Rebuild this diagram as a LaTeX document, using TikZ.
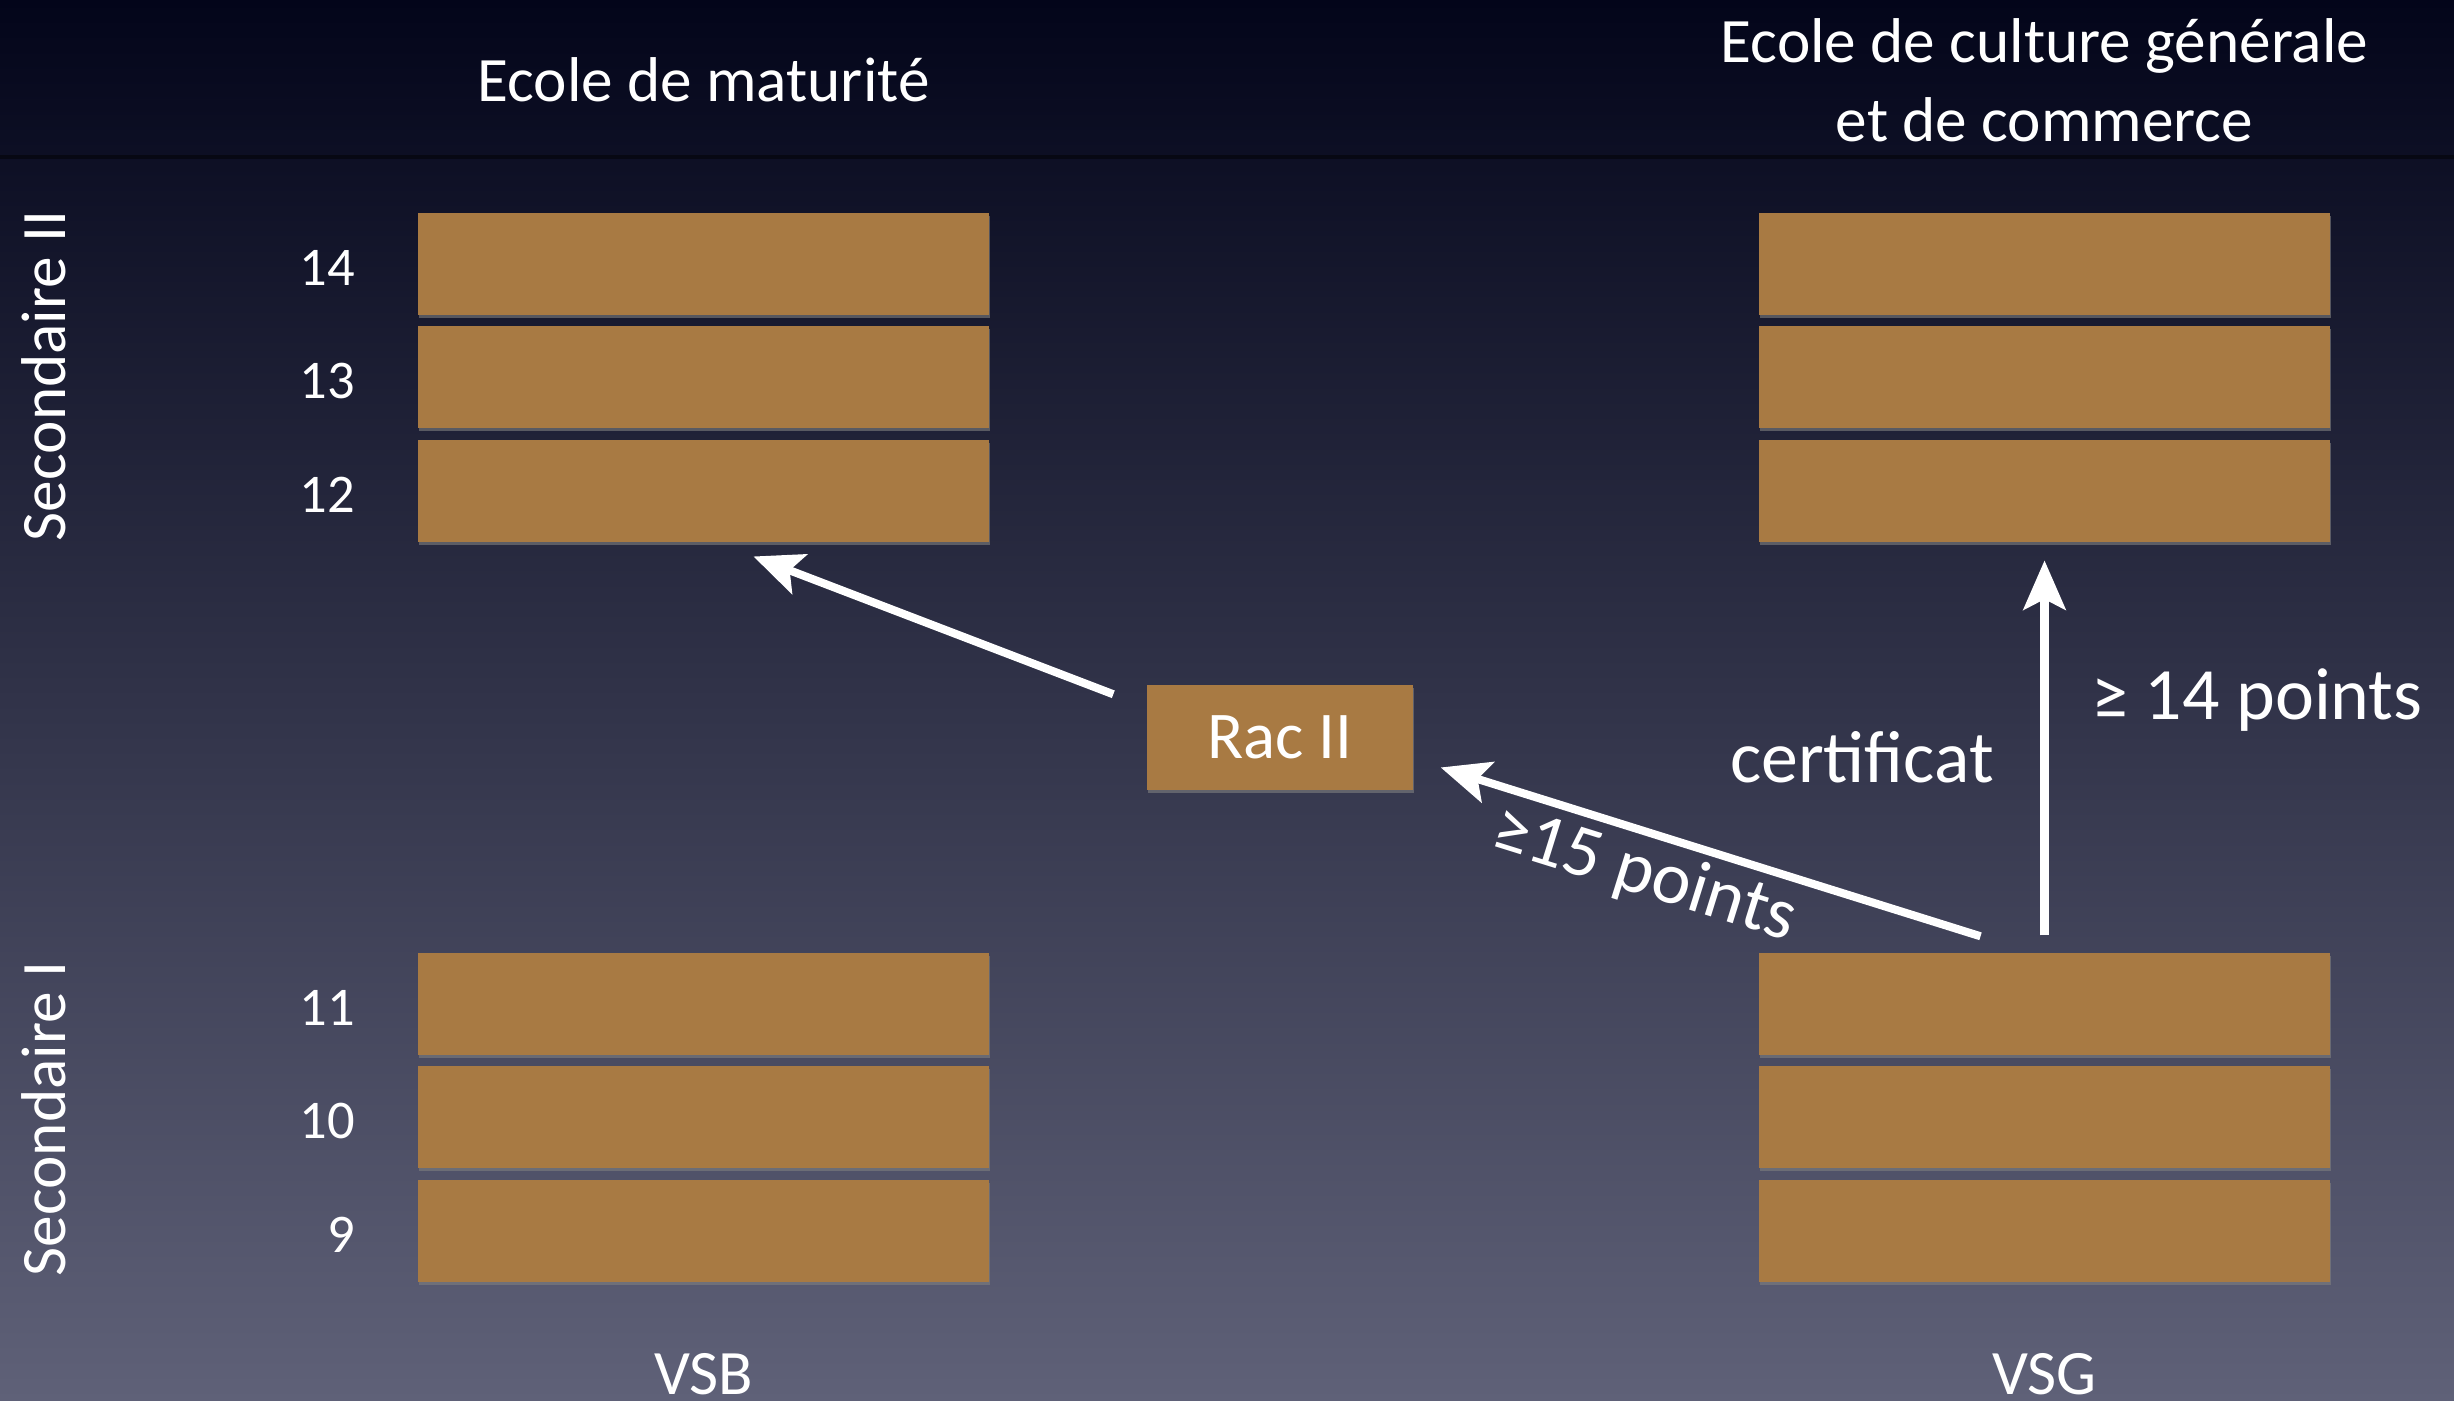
\documentclass[tikz,border=0pt]{standalone}
\usepackage{fontspec}
\setmainfont{Carlito}
\usepackage{tikz}
\usetikzlibrary{positioning,calc,arrows.meta,shadows}

\definecolor{bgtop}{HTML}{03051A}
\definecolor{bgmid}{HTML}{2E3250}
\definecolor{bgbot}{HTML}{5F6178}
\definecolor{brun}{HTML}{A87A43}

\tikzset{
    year/.style={fill=brun, minimum width=5.71cm, minimum height=1.02cm, inner sep=0pt,
        drop shadow={opacity=0.6, shadow xshift=0.01cm, shadow yshift=-0.03cm}},
    num/.style={text=white, font=\fontsize{15.5}{18}\selectfont, yshift=-0.04cm},
    titre/.style={text=white, font=\fontsize{18}{22}\selectfont, align=center},
    fleche/.style={white, line width=2.3pt, -{Stealth[length=14pt, width=12pt, inset=3pt]}},
    etiq/.style={text=white, font=\fontsize{21}{25}\selectfont}
}

\begin{document}
\begin{tikzpicture}
    % background
    \useasboundingbox (0,0) rectangle (24.54,14.01);
    \shade[top color=bgtop, middle color=bgmid, bottom color=bgbot] (0,0) rectangle (24.54,14.01);
    \draw[black, opacity=0.45, line width=1pt] (0,12.44) -- (24.54,12.44);

    % Ecole de maturite
    \node[year] (m14) at (7.035,11.37) {};
    \node[year, below=0.10cm of m14] (m13) {};
    \node[year, below=0.10cm of m13] (m12) {};
    \node[num, left=0.5cm of m14] (n14) {14};
    \node[num, left=0.5cm of m13] (n13) {13};
    \node[num, left=0.5cm of m12] (n12) {12};

    % ECG
    \node[year] (g14) at (20.445,11.37) {};
    \node[year, below=0.10cm of g14] (g13) {};
    \node[year, below=0.10cm of g13] (g12) {};

    % VSB
    \node[year] (b11) at (7.035,3.97) {};
    \node[year, below=0.10cm of b11] (b10) {};
    \node[year, below=0.10cm of b10] (b9) {};
    \node[num, left=0.5cm of b11] (n11) {11};
    \node[num, left=0.5cm of b10] (n10) {10};
    \node[num, left=0.5cm of b9] (n9) {9};

    % VSG
    \node[year] (g11) at (20.445,3.97) {};
    \node[year, below=0.10cm of g11] (g10) {};
    \node[year, below=0.10cm of g10] (g9) {};

    % Rac II
    \node[year, minimum width=2.66cm, minimum height=1.05cm, titre, font=\fontsize{19}{22}\selectfont] (rac) at (12.80,6.635) {Rac II};

    % titres
    \node[titre] (tmat) at (7.035,13.21) {Ecole de maturité};
    \node[titre] (tecg) at (20.445,13.21) {Ecole de culture générale\\[0.02cm]et de commerce};
    \node[titre] (tvsb) at (7.035,0.27) {VSB};
    \node[titre] (tvsg) at (20.445,0.27) {VSG};
    \node[titre, rotate=90] (sec2) at (0.44,10.25) {Secondaire II};
    \node[titre, rotate=90] (sec1) at (0.44,2.82) {Secondaire I};

    % passages
    \draw[fleche] ($(rac.north west)+(-0.33,-0.10)$) -- ($(m12.south)+(0.50,-0.14)$);
    \draw[fleche] ($(g11.north)+(-0.64,0.16)$) -- ($(rac.east)+(0.27,-0.30)$)
        node[etiq, pos=0.6, below, sloped, inner sep=2pt] {≥15 points};
    \draw[fleche, shorten <=0.17cm, shorten >=0.18cm] (g11.north) -- (g12.south);
    \node[etiq] (cert) at (18.62,6.44) {certificat};
    \node[etiq] (pts) at (22.57,7.01) {≥ 14 points};

\end{tikzpicture}
\end{document}
